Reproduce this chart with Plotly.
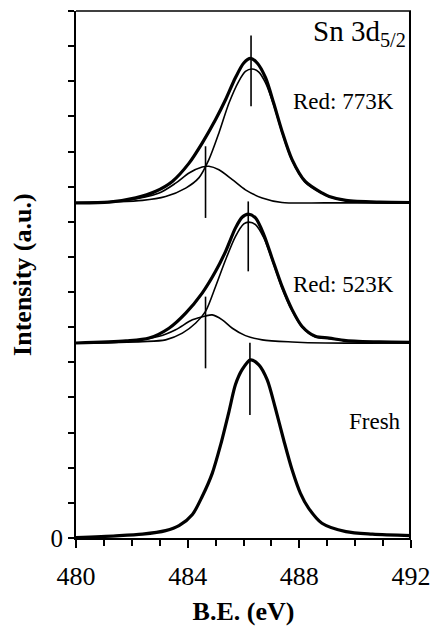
import plotly.graph_objects as go

# ---------------- data ----------------
# Fresh (single peak)
fresh_x = [480.0, 481.43, 482.38, 483.21, 483.69, 484.17, 484.52, 484.88, 485.18, 485.48,
           485.71, 485.95, 486.25, 486.55, 486.85, 487.14, 487.44, 487.74, 488.04, 488.33,
           488.81, 489.67, 490.62, 492.0]
fresh_y = [0.01, 0.06, 0.11, 0.21, 0.35, 0.67, 1.18, 1.84, 2.65, 3.60,
           4.36, 4.79, 5.07, 4.93, 4.50, 3.70, 2.79, 1.94, 1.27, 0.85,
           0.42, 0.18, 0.11, 0.07]

# Red: 523K  total envelope
r523_tot_x = [480.0, 481.79, 482.62, 483.33, 483.93, 484.52, 485.0, 485.36, 485.71, 485.95,
              486.17, 486.43, 486.73, 487.02, 487.38, 487.74, 488.10, 488.57, 489.07, 489.67,
              490.86, 492.0]
r523_tot_y = [5.55, 5.61, 5.69, 5.97, 6.40, 6.97, 7.59, 8.16, 8.82, 9.13,
              9.22, 9.11, 8.63, 7.97, 7.16, 6.50, 6.02, 5.74, 5.69, 5.62,
              5.58, 5.57]
# Red: 523K  main component
r523_a_x = [480.0, 482.38, 483.21, 483.81, 484.29, 484.64, 485.0, 485.36, 485.71, 486.01,
            486.19, 486.43, 486.73, 487.02, 487.38, 487.74, 488.10, 488.57, 489.07, 489.67,
            490.86, 492.0]
r523_a_y = [5.55, 5.59, 5.64, 5.83, 6.12, 6.45, 7.16, 7.92, 8.58, 8.94,
            8.99, 8.92, 8.54, 7.93, 7.12, 6.47, 6.00, 5.73, 5.68, 5.61,
            5.57, 5.56]
# Red: 523K  low-BE component
r523_b_x = [480.0, 481.79, 482.98, 483.57, 484.17, 484.64, 484.88, 485.24, 485.60, 486.07,
            486.67, 487.74, 488.93, 492.0]
r523_b_y = [5.55, 5.59, 5.74, 5.93, 6.21, 6.32, 6.35, 6.21, 5.97, 5.76,
            5.64, 5.58, 5.55, 5.55]

# Red: 773K  total envelope
r773_tot_x = [480.0, 481.19, 482.14, 482.86, 483.45, 484.05, 484.52, 485.0, 485.36, 485.71,
              486.01, 486.25, 486.49, 486.79, 487.08, 487.38, 487.74, 488.21, 488.81, 489.07,
              489.67, 490.86, 492.0]
r773_tot_y = [9.54, 9.56, 9.68, 9.87, 10.15, 10.67, 11.24, 11.91, 12.48, 13.10,
              13.52, 13.65, 13.52, 13.10, 12.38, 11.58, 10.77, 10.15, 9.82, 9.72,
              9.61, 9.56, 9.55]
# Red: 773K  main component
r773_a_x = [480.0, 482.38, 483.21, 483.93, 484.40, 484.76, 485.12, 485.48, 485.83, 486.07,
            486.31, 486.55, 486.79, 487.08, 487.38, 487.74, 488.21, 488.81, 489.07, 489.67,
            490.86, 492.0]
r773_a_y = [9.54, 9.61, 9.72, 9.96, 10.25, 10.77, 11.53, 12.38, 13.00, 13.28,
            13.35, 13.26, 12.95, 12.33, 11.54, 10.74, 10.13, 9.81, 9.71, 9.60,
            9.55, 9.54]
# Red: 773K  low-BE component
r773_b_x = [480.0, 481.79, 482.98, 483.57, 484.05, 484.52, 484.76, 485.12, 485.60, 486.07,
            486.67, 487.38, 488.93, 492.0]
r773_b_y = [9.54, 9.61, 9.82, 10.10, 10.39, 10.56, 10.58, 10.48, 10.20, 9.91,
            9.68, 9.55, 9.54, 9.54]

# vertical peak-position markers: x, y-bottom, y-top
marker_x = [486.27, 484.64, 486.17, 484.64, 486.23]
marker_y0 = [12.29, 9.11, 7.59, 4.83, 3.50]
marker_y1 = [14.30, 11.15, 9.58, 6.87, 5.56]

# labels
label_text = ["Red: 773K", "Red: 523K", "Fresh"]
label_x = [489.57, 489.57, 490.70]
label_y = [12.42, 7.21, 3.32]

x_tickvals = [480, 484, 488, 492]
y_tickvals = [0]
y_ticktext = ["0"]

SERIF = "Liberation Serif, Times New Roman, serif"

fig = go.Figure()

thick = dict(color="black", width=3.2)
thin = dict(color="black", width=1.6)

for xs, ys, ln in [
    (fresh_x, fresh_y, thick),
    (r523_b_x, r523_b_y, thin),
    (r523_a_x, r523_a_y, thin),
    (r523_tot_x, r523_tot_y, thick),
    (r773_b_x, r773_b_y, thin),
    (r773_a_x, r773_a_y, thin),
    (r773_tot_x, r773_tot_y, thick),
]:
    fig.add_trace(go.Scatter(x=xs, y=ys, mode="lines", line=dict(shape="spline", smoothing=0.8, **ln),
                             showlegend=False, hoverinfo="skip"))

for mx, a, b in zip(marker_x, marker_y0, marker_y1):
    fig.add_trace(go.Scatter(x=[mx, mx], y=[a, b], mode="lines", line=dict(color="black", width=1.6),
                             showlegend=False, hoverinfo="skip"))

for t, lx, ly in zip(label_text, label_x, label_y):
    fig.add_annotation(x=lx, y=ly, text=t, showarrow=False, xanchor="center", yanchor="middle",
                       font=dict(family=SERIF, size=23, color="black"))

fig.add_annotation(x=491.9, y=14.36, text="Sn 3d<sub>5/2</sub>", showarrow=False,
                   xanchor="right", yanchor="middle", font=dict(family=SERIF, size=29, color="black"))

# y-axis title
fig.add_annotation(xref="paper", yref="paper", x=-0.16, y=0.5, text="<b>Intensity (a.u.)</b>",
                   textangle=-90, showarrow=False, xanchor="center", yanchor="middle",
                   font=dict(family=SERIF, size=26, color="black"))

# thin top / right frame lines
fig.add_shape(type="line", xref="paper", yref="paper", x0=0, x1=1, y0=1, y1=1,
              layer="above", line=dict(color="black", width=1.5))
fig.add_shape(type="rect", xref="paper", yref="paper", x0=0.994, x1=1.0, y0=0, y1=1,
              layer="above", line=dict(width=0), fillcolor="black")

fig.update_layout(
    width=433, height=627,
    margin=dict(l=76, r=22, t=11, b=89, autoexpand=False),
    paper_bgcolor="white", plot_bgcolor="white",
    font=dict(family=SERIF, color="black"),
    xaxis=dict(range=[480, 492], tickvals=x_tickvals, ticks="outside", ticklen=8, tickwidth=2,
               tickcolor="black", showline=True, linecolor="black", linewidth=2, automargin=False,
               showgrid=False, zeroline=False, tickfont=dict(size=26, family=SERIF),
               ticklabelstandoff=6,
               minor=dict(dtick=1, ticks="outside", ticklen=6, tickwidth=1.5, tickcolor="black"),
               title=dict(text="<b>B.E. (eV)</b>", font=dict(size=26, family=SERIF), standoff=12)),
    yaxis=dict(range=[0, 15], tickvals=y_tickvals, ticktext=y_ticktext, ticks="outside", ticklen=6,
               tickwidth=1.5, tickcolor="black", showline=True, linecolor="black", linewidth=2,
               automargin=False,
               showgrid=False, zeroline=False, tickfont=dict(size=25, family=SERIF),
               minor=dict(dtick=1, ticks="outside", ticklen=6, tickwidth=1.5, tickcolor="black")),
)

fig.write_html("out.html")
